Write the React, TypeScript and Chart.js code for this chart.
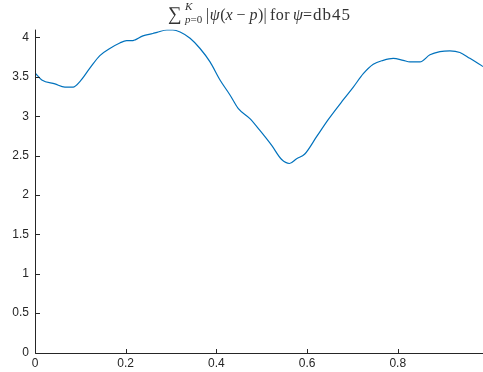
import React, { useEffect, useRef } from "react";
import { Chart, registerables } from "chart.js";

Chart.register(...registerables);

const xValues = [
  0, 0.015, 0.044, 0.066, 0.084, 0.099, 0.121, 0.143, 0.165, 0.187, 0.202, 0.216, 0.221,
  0.238, 0.26, 0.269, 0.291, 0.304, 0.32, 0.342, 0.364, 0.386, 0.408, 0.43, 0.448, 0.474,
  0.496, 0.522, 0.544, 0.561, 0.577, 0.595, 0.621, 0.647, 0.68, 0.702, 0.724, 0.746,
  0.768, 0.79, 0.812, 0.827, 0.849, 0.871, 0.893, 0.915, 0.937, 0.959, 0.988,
];
const yValues = [
  3.55, 3.46, 3.41, 3.37, 3.37, 3.44, 3.61, 3.77, 3.86, 3.93, 3.96, 3.96, 3.97,
  4.02, 4.05, 4.065, 4.095, 4.095, 4.07, 3.99, 3.86, 3.69, 3.46, 3.27, 3.1, 2.97,
  2.82, 2.63, 2.45, 2.4, 2.46, 2.52, 2.74, 2.96, 3.21, 3.37, 3.54, 3.66,
  3.71, 3.735, 3.71, 3.69, 3.69, 3.78, 3.82, 3.83, 3.81, 3.735, 3.63,
];
const xTicks = [0, 0.2, 0.4, 0.6, 0.8];
const yTicks = [0, 0.5, 1, 1.5, 2, 2.5, 3, 3.5, 4];
const xMax = 0.988;
const yMax = 4.1;

const AXIS = "#262626";
const LINE = "#0072BD";
const SANS = '"Liberation Sans", Arial, Helvetica, sans-serif';
const SERIF = '"Liberation Serif", "DejaVu Serif", serif';

const axesPlugin = {
  id: "matlabAxes",
  afterDraw(chart: any) {
    const { ctx, chartArea, scales } = chart;
    const xs = scales.x;
    const ys = scales.y;
    ctx.save();
    ctx.strokeStyle = AXIS;
    ctx.lineWidth = 1;
    const left = Math.round(chartArea.left) + 0.5;
    const bottom = Math.round(chartArea.bottom) + 0.5;
    ctx.beginPath();
    ctx.moveTo(left, chartArea.top);
    ctx.lineTo(left, bottom);
    ctx.lineTo(chartArea.right, bottom);
    ctx.stroke();
    const tl = 4.5;
    ctx.beginPath();
    for (const v of xTicks) {
      const px = Math.round(xs.getPixelForValue(v)) + 0.5;
      ctx.moveTo(px, bottom);
      ctx.lineTo(px, bottom - tl);
    }
    for (const v of yTicks) {
      const py = Math.round(ys.getPixelForValue(v)) + 0.5;
      ctx.moveTo(left, py);
      ctx.lineTo(left + tl, py);
    }
    ctx.stroke();

    // title
    ctx.fillStyle = "#333333";
    ctx.textBaseline = "alphabetic";
    ctx.textAlign = "left";
    const draw = (t: string, font: string, x: number, y: number, ls = "0px") => {
      ctx.font = font;
      (ctx as any).letterSpacing = ls;
      ctx.fillText(t, x, y);
      const w = ctx.measureText(t).width;
      (ctx as any).letterSpacing = "0px";
      return x + w;
    };
    const base = 20;
    const rm = `16px ${SERIF}`;
    const it = `italic 16px ${SERIF}`;
    const sm = `11px ${SERIF}`;
    const smi = `italic 11px ${SERIF}`;
    draw("\u2211", `19px ${SERIF}`, 168, base);
    draw("K", smi, 185, 10);
    const sx = draw("p", smi, 185, 23);
    draw("=0", sm, sx, 23);
    let x = 206;
    x = draw("|", rm, x, base);
    x = draw("\u03C8", it, x + 0.5, base);
    x = draw("(", rm, x + 0.5, base);
    x = draw("x", it, x, base);
    x = draw(" \u2212 ", rm, x, base);
    x = draw("p", it, x, base);
    x = draw(")", rm, x + 0.5, base);
    draw("|", rm, x, base);
    draw("for", rm, 270, base, "0.5px");
    draw("\u03C8", it, 293, base);
    draw("=", rm, 303, base);
    draw("db45", `17px ${SERIF}`, 313, base, "1px");
    ctx.restore();
  },
};

export default function App() {
  const ref = useRef<HTMLCanvasElement>(null);
  useEffect(() => {
    if (!ref.current) return;
    const data = xValues.map((x, i) => ({ x, y: yValues[i] }));
    const chart = new Chart(ref.current, {
      type: "line",
      data: {
        datasets: [
          {
            data,
            borderColor: LINE,
            borderWidth: 1.2,
            pointRadius: 0,
            cubicInterpolationMode: "monotone",
            fill: false,
          },
        ],
      },
      options: {
        animation: false,
        responsive: false,
        events: [],
        layout: { padding: { top: 29.6, right: 0, left: 0, bottom: 0 } },
        plugins: { legend: { display: false }, tooltip: { enabled: false }, title: { display: false } },
        scales: {
          x: {
            type: "linear",
            min: 0,
            max: xMax,
            grid: { display: false, drawTicks: false },
            border: { display: false },
            afterFit: (s: any) => { s.height = 19.5; },
            afterBuildTicks: (s: any) => { s.ticks = xTicks.map((v) => ({ value: v })); },
            ticks: {
              padding: 4,
              color: AXIS,
              font: { family: SANS, size: 12 },
              maxRotation: 0,
              callback: (v: any) => String(v),
            },
          },
          y: {
            type: "linear",
            min: 0,
            max: yMax,
            grid: { display: false, drawTicks: false },
            border: { display: false },
            afterFit: (s: any) => { s.width = 35; },
            afterBuildTicks: (s: any) => { s.ticks = yTicks.map((v) => ({ value: v })); },
            ticks: {
              padding: 6,
              color: AXIS,
              font: { family: SANS, size: 12 },
              callback: (v: any) => String(v),
            },
          },
        },
      },
      plugins: [axesPlugin],
    });
    return () => chart.destroy();
  }, []);
  return (
    <div style={{ position: "fixed", left: 0, top: 0, width: 483, height: 372, background: "#fff" }}>
      <canvas ref={ref} width={483} height={372} style={{ display: "block" }} />
    </div>
  );
}
